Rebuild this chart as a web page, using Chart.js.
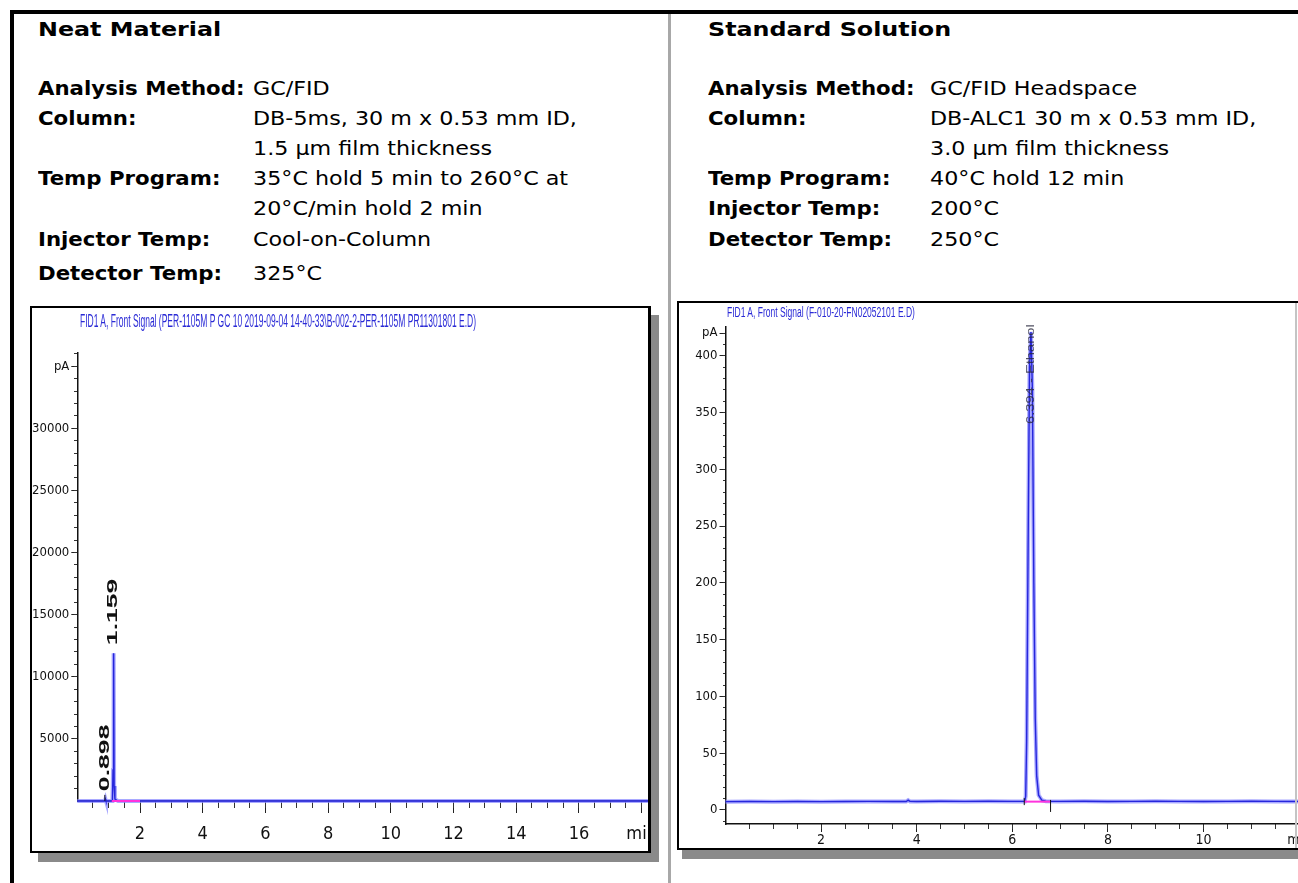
<!DOCTYPE html>
<html>
<head>
<meta charset="utf-8">
<title>GC/FID chromatograms</title>
<script src="https://cdn.jsdelivr.net/npm/chart.js@4.4.1/dist/chart.umd.min.js"></script>
<style>
  html, body { margin: 0; padding: 0; background: #fff; }
  #page { position: relative; width: 1298px; height: 883px; overflow: hidden; font-family: 'DejaVu Sans', Verdana, sans-serif; color: #000; }
  .rule { position: absolute; }
  .txt { position: absolute; white-space: nowrap; line-height: 30px; font-size: 19px; transform-origin: 0 50%; }
  .head { font-size: 20px; font-weight: bold; transform: scaleX(1.19); }
  .lbl { font-weight: bold; transform: scaleX(1.12); }
  .val { transform: scaleX(1.17); }
  .box { position: absolute; box-sizing: border-box; border: 2px solid #000; background: #fff; overflow: hidden; }
  .box canvas { position: absolute; left: 0; top: 0; }
  .sigtitle { position: absolute; white-space: nowrap; font-family: 'Liberation Sans', Arial, sans-serif; color: #2a2ad6; transform-origin: 0 50%; }
</style>
</head>
<body>
<div id="page">
  <div class="rule" style="left:10px;top:10px;width:1300px;height:4px;background:#000"></div>
  <div class="rule" style="left:10px;top:10px;width:4px;height:880px;background:#000"></div>
  <div class="rule" style="left:668px;top:14px;width:3px;height:870px;background:#a8a8a8"></div>

  <div class="txt head" style="left:38px;top:14px">Neat Material</div>
  <div class="txt lbl" style="left:38px;top:73px">Analysis Method:</div>
  <div class="txt val" style="left:253px;top:73px">GC/FID</div>
  <div class="txt lbl" style="left:38px;top:103px">Column:</div>
  <div class="txt val" style="left:253px;top:103px">DB-5ms, 30 m x 0.53 mm ID,</div>
  <div class="txt val" style="left:253px;top:133px">1.5 µm film thickness</div>
  <div class="txt lbl" style="left:38px;top:163px">Temp Program:</div>
  <div class="txt val" style="left:253px;top:163px">35°C hold 5 min to 260°C at</div>
  <div class="txt val" style="left:253px;top:193px">20°C/min hold 2 min</div>
  <div class="txt lbl" style="left:38px;top:224px">Injector Temp:</div>
  <div class="txt val" style="left:253px;top:224px">Cool-on-Column</div>
  <div class="txt lbl" style="left:38px;top:258px">Detector Temp:</div>
  <div class="txt val" style="left:253px;top:258px">325°C</div>

  <div class="txt head" style="left:708px;top:14px">Standard Solution</div>
  <div class="txt lbl" style="left:708px;top:73px">Analysis Method:</div>
  <div class="txt val" style="left:930px;top:73px">GC/FID Headspace</div>
  <div class="txt lbl" style="left:708px;top:103px">Column:</div>
  <div class="txt val" style="left:930px;top:103px">DB-ALC1 30 m x 0.53 mm ID,</div>
  <div class="txt val" style="left:930px;top:133px">3.0 µm film thickness</div>
  <div class="txt lbl" style="left:708px;top:163px">Temp Program:</div>
  <div class="txt val" style="left:930px;top:163px">40°C hold 12 min</div>
  <div class="txt lbl" style="left:708px;top:193px">Injector Temp:</div>
  <div class="txt val" style="left:930px;top:193px">200°C</div>
  <div class="txt lbl" style="left:708px;top:224px">Detector Temp:</div>
  <div class="txt val" style="left:930px;top:224px">250°C</div>

  <div class="box" style="left:30px;top:306px;width:621px;height:547px;border-right-width:3px;box-shadow:8px 9px 0 #8a8a8a">
    <canvas id="neatChart" width="646" height="543"></canvas>
  </div>
  <div class="sigtitle" id="neatTitle" style="left:80px;top:311px;font-size:18px;line-height:20px">FID1 A, Front Signal (PER-1105M P GC 10 2019-09-04 14-40-33\B-002-2-PER-1105M PR11301801 E.D)</div>

  <div class="box" style="left:677px;top:301px;width:640px;height:549px;box-shadow:5px 9px 0 #8a8a8a">
    <canvas id="stdChart" width="636" height="545"></canvas>
  </div>
  <div class="rule" style="left:1295px;top:303px;width:2px;height:545px;background:#c4c4c4"></div>
  <div class="sigtitle" id="stdTitle" style="left:727px;top:304px;font-size:14px;line-height:16px">FID1 A, Front Signal (F-010-20-FN02052101 E.D)</div>
</div>

<script>
// Neat Material chromatogram (time in min, signal in pA)
const neatTime   = [0, 0.5, 0.85, 0.88, 0.898, 0.915, 1.12, 1.14, 1.159, 1.175, 1.2, 1.3, 2, 4, 6, 8, 10, 12, 14, 16, 18.2];
const neatSignal = [0, 0,   0,    0,    150,   0,     0,    2500, 11900, 1200,  150, 0,   0, 0, 0, 0, 0,  0,  0,  0,  0];
const neatPeakTimes   = [0.898, 1.159];
const neatPeakHeights = [150, 11900];
const neatPeakLabels  = ['0.898', '1.159'];
const neatBaseTimes   = [1.1, 2.0];
const neatBaseLevels  = [0, 0];
const neatMarkTimes   = [0.88];
const neatMarkLevels  = [250];
const neatXTicks  = [2, 4, 6, 8, 10, 12, 14, 16, 18];
const neatXLabels = ['2', '4', '6', '8', '10', '12', '14', '16', 'min'];
const neatYTicks  = [5000, 10000, 15000, 20000, 25000, 30000, 35000];
const neatYLabels = ['5000', '10000', '15000', '20000', '25000', '30000', 'pA'];

// Standard Solution chromatogram
const stdTime   = [0, 0.5, 1, 1.5, 2, 2.5, 3, 3.5, 3.78, 3.82, 3.86, 4, 4.5, 5, 5.5, 6,
                   6.26, 6.28, 6.30, 6.33, 6.36, 6.39, 6.42, 6.45, 6.48, 6.51, 6.55, 6.62, 6.7,
                   7, 7.5, 8, 8.5, 9, 9.5, 10, 10.5, 11, 11.5, 12.15];
const stdSignal = [7.3, 7.4, 7.3, 7.4, 7.3, 7.4, 7.5, 7.4, 7.4, 8.6, 7.5, 7.4, 7.6, 7.5, 7.6, 7.5,
                   7.5, 12, 60, 230, 390, 421, 370, 200, 80, 30, 13, 8.5, 7.6,
                   7.5, 7.6, 7.4, 7.5, 7.6, 7.5, 7.4, 7.5, 7.6, 7.5, 7.4];
const stdPeakTimes   = [6.394];
const stdPeakHeights = [421];
const stdPeakLabels  = ['6.394 - Ethanol'];
const stdBaseTimes   = [6.25, 6.8];
const stdBaseLevels  = [7.3, 7.3];
const stdMarkTimes   = [6.25, 6.8];
const stdMarkLevels  = [7.3, 3.5];
const stdXTicks  = [2, 4, 6, 8, 10, 12];
const stdXLabels = ['2', '4', '6', '8', '10', 'min'];
const stdYTicks  = [0, 50, 100, 150, 200, 250, 300, 350, 400, 420];
const stdYLabels = ['0', '50', '100', '150', '200', '250', '300', '350', '400', 'pA'];

const NARROW = "'Liberation Sans Narrow', 'Arial Narrow', 'DejaVu Sans Condensed', 'Liberation Sans', sans-serif";

function steps(from, to, step) {
    const out = [];
    for (let v = from; v <= to + 1e-9; v += step) out.push(Math.round(v * 1000) / 1000);
    return out;
}

function toPoints(xs, ys) {
    return xs.map((x, i) => ({ x: x, y: ys[i] }));
}

function fixedTicks(values) {
    return function (scale) { scale.ticks = values.map(v => ({ value: v })); };
}

// retention time labels, written sideways next to each peak
function peakLabels(p) {
    return {
        id: 'peakLabels',
        afterDatasetsDraw(chart) {
            const { ctx, scales } = chart;
            p.times.forEach((t, i) => {
                ctx.save();
                ctx.translate(scales.x.getPixelForValue(t), scales.y.getPixelForValue(p.heights[i]) - p.gap);
                ctx.rotate(-Math.PI / 2);
                ctx.scale(p.stretch, 1);
                ctx.font = p.font;
                ctx.fillStyle = p.color;
                ctx.textAlign = 'left';
                ctx.textBaseline = 'middle';
                ctx.fillText(p.labels[i], 0, 0);
                ctx.restore();
            });
        }
    };
}

function chromatogram(canvasId, s) {
    return new Chart(document.getElementById(canvasId), {
        type: 'line',
        data: {
            datasets: [
                { data: toPoints(s.markTimes, s.markLevels), showLine: false, pointStyle: 'line', pointRotation: 90,
                  pointRadius: s.markRadius, pointBorderColor: '#111', pointBorderWidth: 1, clip: false },
                { data: toPoints(s.baseTimes, s.baseLevels), borderColor: '#ff33dd', borderWidth: 2, pointRadius: 0, clip: false },
                { data: toPoints(s.time, s.signal), borderColor: '#2626dc', borderWidth: 1.4, pointRadius: 0, clip: false },
                { data: toPoints(s.time, s.signal), borderColor: 'rgba(140,140,255,0.75)', borderWidth: 4, pointRadius: 0, clip: false }
            ]
        },
        options: {
            responsive: false,
            animation: false,
            events: [],
            layout: { padding: s.padding },
            plugins: { legend: { display: false }, tooltip: { enabled: false } },
            scales: {
                x: {
                    type: 'linear', position: 'bottom', min: s.xMin, max: s.xMax, bounds: 'data',
                    afterBuildTicks: fixedTicks(s.xTicks),
                    afterFit: sc => { sc.height = s.xAxisHeight; },
                    ticks: { autoSkip: false, maxRotation: 0, padding: s.xPad, color: '#111',
                             font: { family: NARROW, size: s.xFont },
                             callback: v => s.xLabels[s.xTicks.indexOf(v)] },
                    grid: { drawOnChartArea: false, tickLength: s.xMajor, tickColor: '#222' },
                    border: { color: '#111', width: 1.5 }
                },
                y: {
                    type: 'linear', position: 'left', min: s.yMin, max: s.yMax, bounds: 'data',
                    afterBuildTicks: fixedTicks(s.yTicks),
                    afterFit: sc => { sc.width = s.yAxisWidth; },
                    ticks: { autoSkip: false, padding: 2, color: '#111',
                             font: { family: NARROW, size: 13 },
                             callback: v => s.yLabels[s.yTicks.indexOf(v)] },
                    grid: { drawOnChartArea: false, tickLength: s.yMajor, tickColor: '#222' },
                    border: { color: '#111', width: 1.5 }
                },
                xMinor: {
                    type: 'linear', axis: 'x', position: { y: s.yMin }, min: s.xMin, max: s.xMax, bounds: 'data',
                    afterBuildTicks: fixedTicks(s.xMinorTicks),
                    ticks: { display: false },
                    grid: { drawOnChartArea: false, tickLength: s.xMinorLen, tickColor: '#333' },
                    border: { display: false }
                },
                yMinor: {
                    type: 'linear', axis: 'y', position: { x: s.xMin }, min: s.yMin, max: s.yMax, bounds: 'data',
                    afterBuildTicks: fixedTicks(s.yMinorTicks),
                    ticks: { display: false },
                    grid: { drawOnChartArea: false, tickLength: s.yMinorLen, tickColor: '#333' },
                    border: { display: false }
                }
            }
        },
        plugins: [peakLabels(s.peaks)]
    });
}

chromatogram('neatChart', {
    time: neatTime, signal: neatSignal,
    baseTimes: neatBaseTimes, baseLevels: neatBaseLevels,
    markTimes: neatMarkTimes, markLevels: neatMarkLevels, markRadius: 3,
    xMin: 0, xMax: 18.2, yMin: 0, yMax: 36060,
    xTicks: neatXTicks, xLabels: neatXLabels, xMinorTicks: steps(0.5, 18, 0.5),
    yTicks: neatYTicks, yLabels: neatYLabels, yMinorTicks: steps(1000, 36000, 1000),
    padding: { left: 0, top: 45, right: 30.1, bottom: 0 },
    xAxisHeight: 50, yAxisWidth: 45.3,
    xFont: 18, xPad: 11, xMajor: 12, xMinorLen: 7, yMajor: 6, yMinorLen: 3,
    peaks: { times: neatPeakTimes, heights: neatPeakHeights, labels: neatPeakLabels,
             gap: 8, stretch: 1.9, font: 'bold 14px "Liberation Sans", Arial, sans-serif', color: '#111' }
});

chromatogram('stdChart', {
    time: stdTime, signal: stdSignal,
    baseTimes: stdBaseTimes, baseLevels: stdBaseLevels,
    markTimes: stdMarkTimes, markLevels: stdMarkLevels, markRadius: [3.5, 6],
    xMin: 0, xMax: 12.15, yMin: -12.4, yMax: 425.6,
    xTicks: stdXTicks, xLabels: stdXLabels, xMinorTicks: steps(0.5, 12, 0.5),
    yTicks: stdYTicks, yLabels: stdYLabels, yMinorTicks: steps(-10, 420, 10),
    padding: { left: 0, top: 23.7, right: 8.7, bottom: 0 },
    xAxisHeight: 24, yAxisWidth: 46.5,
    xFont: 14, xPad: 0, xMajor: 8, xMinorLen: 5, yMajor: 6, yMinorLen: 3,
    peaks: { times: stdPeakTimes, heights: stdPeakHeights, labels: stdPeakLabels,
             gap: -92, stretch: 1.47, font: '10px "Liberation Sans", Arial, sans-serif', color: 'rgba(40,40,60,0.8)' }
});

// squeeze the instrument signal titles to the width they take in the printout
function fitWidth(id, w) {
    const el = document.getElementById(id);
    el.style.transform = 'scaleX(' + (w / el.offsetWidth) + ')';
}
fitWidth('neatTitle', 396);
fitWidth('stdTitle', 188);
</script>
</body>
</html>
